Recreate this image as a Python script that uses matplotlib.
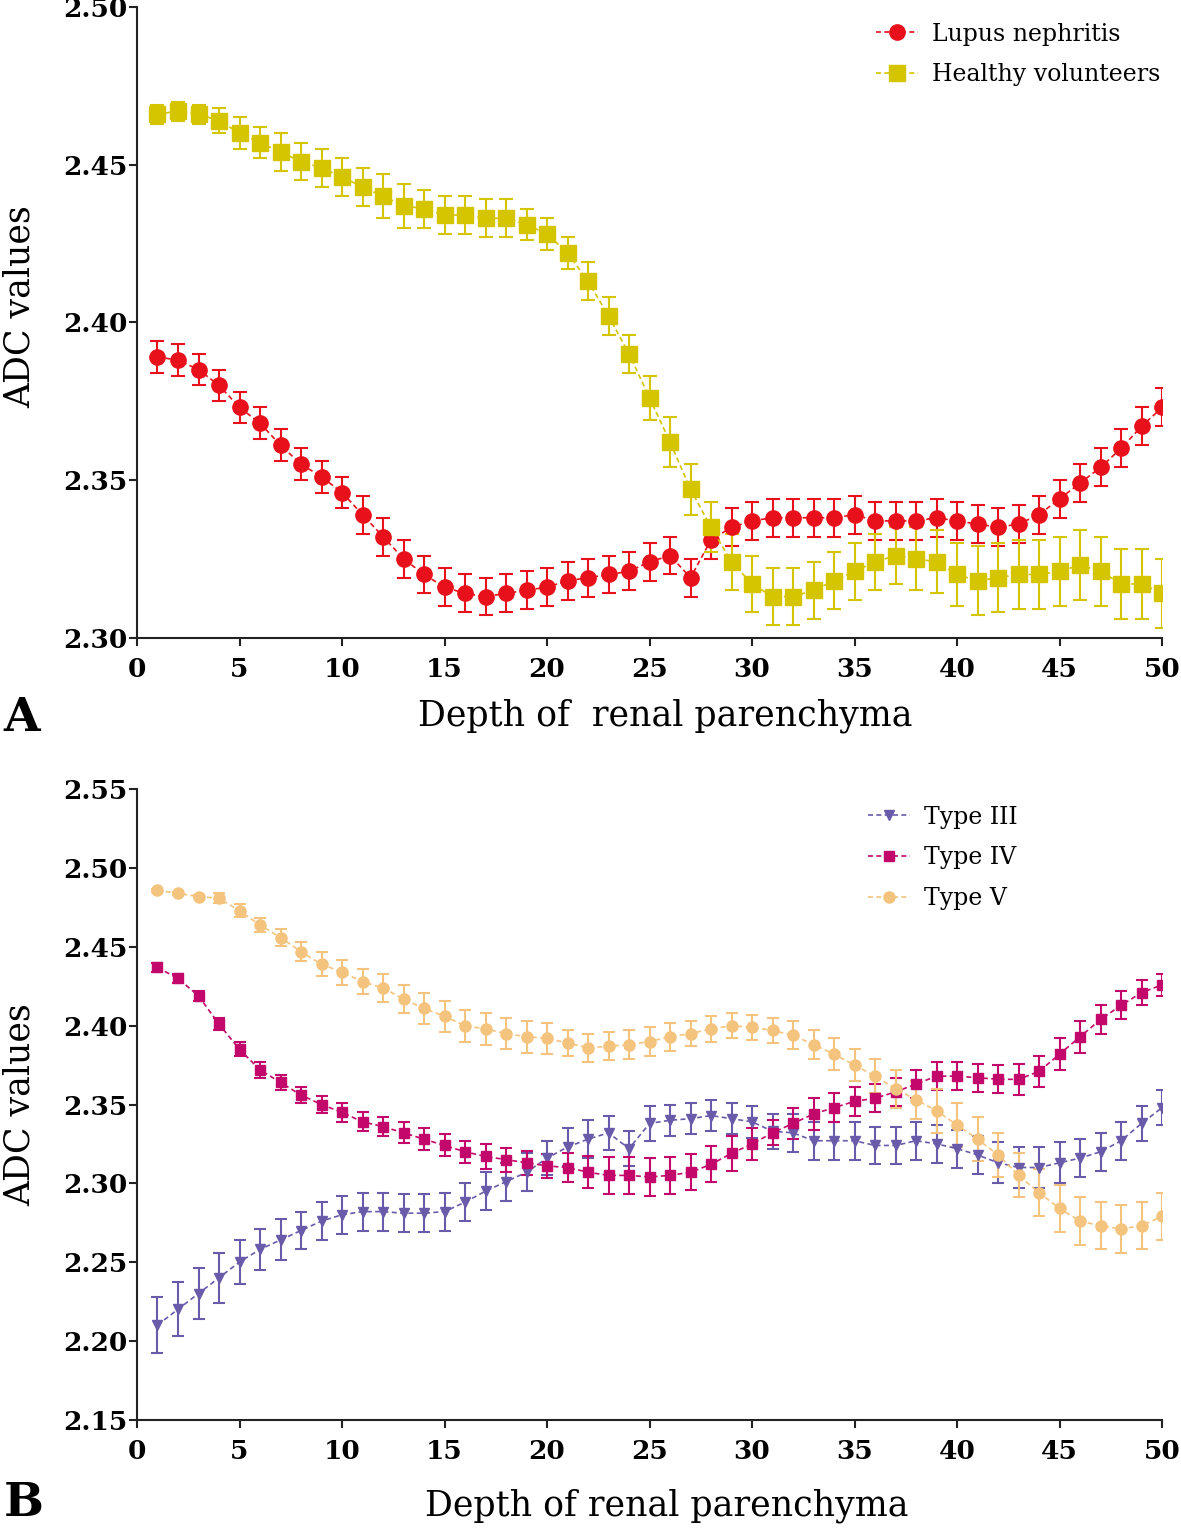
import matplotlib.pyplot as plt
import numpy as np

plt.rcParams['font.family'] = ['DejaVu Serif']

depth = np.arange(1, 51)
x_ticks = np.arange(0, 51, 5)

# Panel A
lupus = [2.389, 2.388, 2.385, 2.380, 2.373, 2.368, 2.361, 2.355, 2.351, 2.346,
         2.339, 2.332, 2.325, 2.320, 2.316, 2.314, 2.313, 2.314, 2.315, 2.316,
         2.318, 2.319, 2.320, 2.321, 2.324, 2.326, 2.319, 2.331, 2.335, 2.337,
         2.338, 2.338, 2.338, 2.338, 2.339, 2.337, 2.337, 2.337, 2.338, 2.337,
         2.336, 2.335, 2.336, 2.339, 2.344, 2.349, 2.354, 2.360, 2.367, 2.373]
lupus_err = [0.005, 0.005, 0.005, 0.005, 0.005, 0.005, 0.005, 0.005, 0.005, 0.005,
             0.006, 0.006, 0.006, 0.006, 0.006, 0.006, 0.006, 0.006, 0.006, 0.006,
             0.006, 0.006, 0.006, 0.006, 0.006, 0.006, 0.006, 0.006, 0.006, 0.006,
             0.006, 0.006, 0.006, 0.006, 0.006, 0.006, 0.006, 0.006, 0.006, 0.006,
             0.006, 0.006, 0.006, 0.006, 0.006, 0.006, 0.006, 0.006, 0.006, 0.006]
healthy = [2.466, 2.467, 2.466, 2.464, 2.460, 2.457, 2.454, 2.451, 2.449, 2.446,
           2.443, 2.440, 2.437, 2.436, 2.434, 2.434, 2.433, 2.433, 2.431, 2.428,
           2.422, 2.413, 2.402, 2.390, 2.376, 2.362, 2.347, 2.335, 2.324, 2.317,
           2.313, 2.313, 2.315, 2.318, 2.321, 2.324, 2.326, 2.325, 2.324, 2.320,
           2.318, 2.319, 2.320, 2.320, 2.321, 2.323, 2.321, 2.317, 2.317, 2.314]
healthy_err = [0.003, 0.003, 0.003, 0.004, 0.005, 0.005, 0.006, 0.006, 0.006, 0.006,
               0.006, 0.007, 0.007, 0.006, 0.006, 0.006, 0.006, 0.006, 0.005, 0.005,
               0.005, 0.006, 0.006, 0.006, 0.007, 0.008, 0.008, 0.008, 0.009, 0.009,
               0.009, 0.009, 0.009, 0.009, 0.009, 0.009, 0.009, 0.010, 0.010, 0.010,
               0.011, 0.011, 0.011, 0.011, 0.011, 0.011, 0.011, 0.011, 0.011, 0.011]
labels_a = ['Lupus nephritis', 'Healthy volunteers']

# Panel B
type3 = [2.210, 2.220, 2.230, 2.240, 2.250, 2.258, 2.264, 2.270, 2.276, 2.280,
         2.282, 2.282, 2.281, 2.281, 2.282, 2.288, 2.295, 2.301, 2.307, 2.316,
         2.323, 2.328, 2.332, 2.322, 2.338, 2.340, 2.341, 2.343, 2.341, 2.339,
         2.333, 2.332, 2.327, 2.327, 2.327, 2.324, 2.324, 2.327, 2.325, 2.322,
         2.318, 2.313, 2.310, 2.310, 2.313, 2.316, 2.320, 2.327, 2.338, 2.348]
type3_err = [0.018, 0.017, 0.016, 0.016, 0.014, 0.013, 0.013, 0.012, 0.012, 0.012,
             0.012, 0.012, 0.012, 0.012, 0.012, 0.012, 0.012, 0.012, 0.012, 0.011,
             0.012, 0.012, 0.011, 0.011, 0.011, 0.010, 0.010, 0.010, 0.010, 0.010,
             0.011, 0.012, 0.012, 0.012, 0.012, 0.012, 0.012, 0.012, 0.012, 0.012,
             0.012, 0.013, 0.013, 0.013, 0.013, 0.012, 0.012, 0.012, 0.011, 0.011]
type4 = [2.437, 2.430, 2.419, 2.401, 2.385, 2.372, 2.364, 2.356, 2.350, 2.345,
         2.339, 2.336, 2.332, 2.328, 2.324, 2.320, 2.317, 2.315, 2.313, 2.311,
         2.310, 2.307, 2.305, 2.305, 2.304, 2.305, 2.307, 2.312, 2.319, 2.325,
         2.332, 2.338, 2.344, 2.348, 2.352, 2.354, 2.358, 2.363, 2.368, 2.368,
         2.367, 2.366, 2.366, 2.371, 2.382, 2.393, 2.404, 2.413, 2.421, 2.426]
type4_err = [0.003, 0.003, 0.003, 0.004, 0.0045, 0.005, 0.005, 0.005, 0.0055, 0.006,
             0.006, 0.006, 0.0066, 0.007, 0.007, 0.007, 0.0077, 0.0077, 0.0077, 0.0077,
             0.009, 0.010, 0.0115, 0.0115, 0.012, 0.0115, 0.0115, 0.0115, 0.011, 0.010,
             0.008, 0.010, 0.010, 0.009, 0.009, 0.009, 0.009, 0.009, 0.009, 0.009,
             0.009, 0.009, 0.010, 0.010, 0.010, 0.010, 0.009, 0.009, 0.008, 0.007]
type5 = [2.486, 2.484, 2.482, 2.481, 2.473, 2.464, 2.456, 2.447, 2.439, 2.434,
         2.428, 2.424, 2.417, 2.411, 2.406, 2.400, 2.398, 2.395, 2.393, 2.392,
         2.389, 2.386, 2.387, 2.388, 2.390, 2.393, 2.395, 2.398, 2.400, 2.399,
         2.397, 2.394, 2.388, 2.382, 2.375, 2.368, 2.360, 2.353, 2.346, 2.337,
         2.328, 2.318, 2.305, 2.294, 2.284, 2.276, 2.273, 2.271, 2.273, 2.279]
type5_err = [0.001, 0.001, 0.001, 0.003, 0.004, 0.0045, 0.0055, 0.006, 0.0077, 0.008,
             0.008, 0.009, 0.009, 0.010, 0.010, 0.010, 0.010, 0.010, 0.010, 0.010,
             0.008, 0.009, 0.009, 0.009, 0.009, 0.009, 0.008, 0.008, 0.008, 0.008,
             0.008, 0.009, 0.009, 0.010, 0.010, 0.011, 0.012, 0.012, 0.014, 0.014,
             0.014, 0.014, 0.014, 0.015, 0.015, 0.015, 0.015, 0.015, 0.015, 0.015]
labels_b = ['Type III', 'Type IV', 'Type V']

tick_font = {'family': 'DejaVu Serif', 'weight': 'bold', 'size': 19}
label_size = 25


def style_axis(ax, ylim, yticks, ylab_pos=0.5):
    ax.set_xlim(0, 50)
    ax.set_ylim(*ylim)
    ax.set_xticks(x_ticks)
    ax.set_yticks(yticks)
    ax.set_yticklabels(["%.2f" % v for v in yticks])
    for s in ['top', 'right']:
        ax.spines[s].set_visible(False)
    for s in ['left', 'bottom']:
        ax.spines[s].set_linewidth(1.5)
        ax.spines[s].set_color('#222222')
    ax.tick_params(direction='out', length=6, width=1.5, color='#222222')
    ax.tick_params(axis='x', pad=8)
    ax.tick_params(axis='y', pad=1)
    for lbl in ax.get_xticklabels() + ax.get_yticklabels():
        lbl.set_fontproperties(tick_font)
    ax.set_ylabel("ADC values", fontsize=label_size)
    ax.yaxis.set_label_coords(-0.098, ylab_pos)


def draw(ax, y, err, color, marker, ms, cap=5):
    cont = ax.errorbar(depth, y, yerr=err, color=color, ecolor=color, marker=marker,
                       markersize=ms, linestyle=(0, (3, 2)), linewidth=1.2,
                       elinewidth=1.5, capsize=cap, capthick=1.5,
                       markeredgecolor=color)
    return cont[0]


fig = plt.figure(figsize=(11.81, 15.30), dpi=100)

ax1 = fig.add_axes([0.116, 0.5833, 0.868, 0.4121])
h1 = draw(ax1, lupus, lupus_err, '#e8101a', 'o', 11)
h2 = draw(ax1, healthy, healthy_err, '#d4c500', 's', 11)
style_axis(ax1, (2.30, 2.50), np.arange(2.30, 2.501, 0.05), 0.525)
ax1.set_xlabel("Depth of  renal parenchyma", fontsize=label_size)
ax1.xaxis.set_label_coords(0.515, -0.097)
ax1.legend([h1, h2], labels_a, loc='upper left', bbox_to_anchor=(0.70, 1.009),
           frameon=False, fontsize=17, handlelength=1.8, handletextpad=0.6,
           labelspacing=0.75)

ax2 = fig.add_axes([0.116, 0.0722, 0.868, 0.4118])
g1 = draw(ax2, type3, type3_err, '#6a5aaa', 'v', 7.5, cap=4)
g2 = draw(ax2, type4, type4_err, '#c2086a', 's', 7.5, cap=4)
g3 = draw(ax2, type5, type5_err, '#f4c47e', 'o', 8, cap=4)
style_axis(ax2, (2.15, 2.55), np.arange(2.15, 2.551, 0.05), 0.5)
ax2.set_xlabel("Depth of renal parenchyma", fontsize=label_size)
ax2.xaxis.set_label_coords(0.517, -0.11)
ax2.legend([g1, g2, g3], labels_b, loc='upper left', bbox_to_anchor=(0.692, 1.008),
           frameon=False, fontsize=17, handlelength=1.8, handletextpad=0.6,
           labelspacing=0.75)

fig.text(0.003, 1 - 718 / 1530, "A", fontsize=34, fontweight='bold', va='center')
fig.text(0.003, 1 - 1503 / 1530, "B", fontsize=34, fontweight='bold', va='center')

fig.savefig("out.png", dpi=100)
